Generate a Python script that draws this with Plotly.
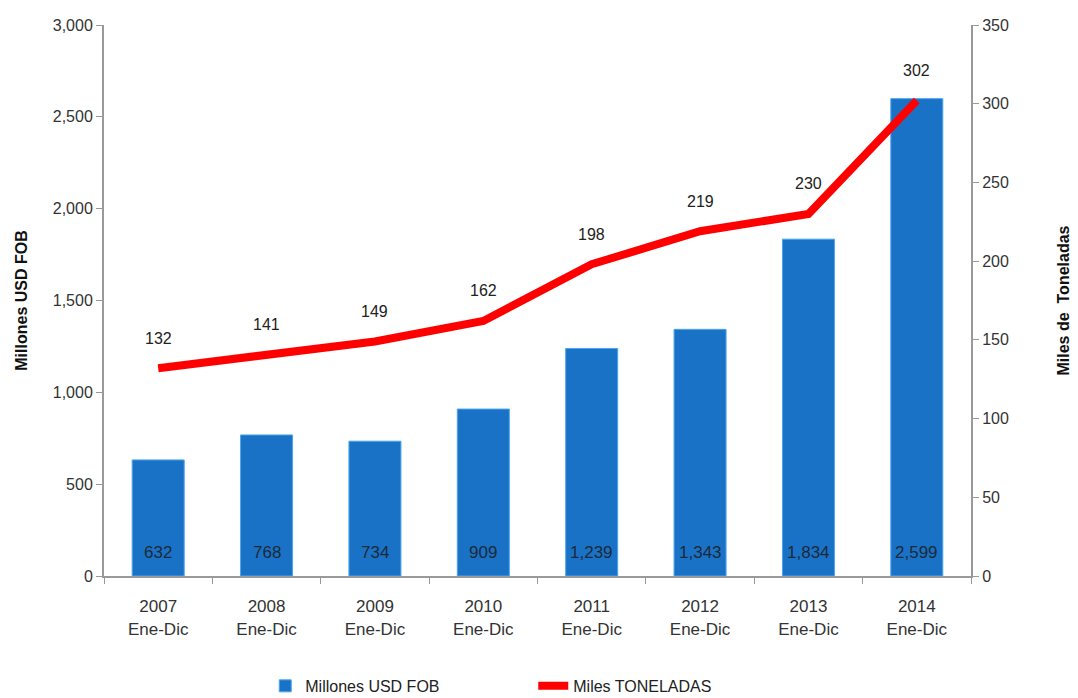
import plotly.graph_objects as go

categories = ["2007<br>Ene-Dic", "2008<br>Ene-Dic", "2009<br>Ene-Dic", "2010<br>Ene-Dic",
              "2011<br>Ene-Dic", "2012<br>Ene-Dic", "2013<br>Ene-Dic", "2014<br>Ene-Dic"]
usd_fob = [632, 768, 734, 909, 1239, 1343, 1834, 2599]
toneladas = [132, 141, 149, 162, 198, 219, 230, 302]

FONT = "Liberation Sans, Arial, sans-serif"

fig = go.Figure()
fig.add_trace(go.Bar(
    x=categories, y=usd_fob, name="Millones USD FOB",
    marker=dict(color="#1a72c6", line=dict(color="#4aa6ee", width=1)),
    width=0.48,
    yaxis="y",
))
fig.add_trace(go.Scatter(
    x=categories, y=toneladas, name="Miles TONELADAS",
    mode="lines", line=dict(color="#ff0000", width=8),
    yaxis="y2",
))
for c, v in zip(categories, usd_fob):
    fig.add_annotation(x=c, y=0, yref="y", text=f"{v:,}", showarrow=False,
                       yanchor="middle", yshift=24,
                       font=dict(size=17, color="#1c2a3a", family=FONT))
for c, v in zip(categories, toneladas):
    fig.add_annotation(x=c, y=v, yref="y2", text=str(v), showarrow=False,
                       yshift=30, font=dict(size=16, color="#222", family=FONT))

fig.update_layout(
    width=1078, height=698,
    margin=dict(l=96, r=115, t=17, b=130),
    paper_bgcolor="white", plot_bgcolor="white",
    font=dict(family=FONT, color="#333", size=15),
    bargap=0.52,
    xaxis=dict(
        showline=True, linecolor="#999", linewidth=2, automargin=False,
        ticks="outside", tickson="boundaries", ticklen=6, tickcolor="#999",
        ticklabelstandoff=14,
        tickfont=dict(size=17, color="#333"), showgrid=False,
    ),
    yaxis=dict(
        range=[0, 3000], dtick=500, tickformat=",", automargin=False,
        showline=True, linecolor="#999", linewidth=2,
        ticks="outside", ticklen=6, tickcolor="#999", showgrid=False, zeroline=False,
        tickfont=dict(size=16, color="#333"),
        title=dict(text="<b>Millones USD FOB</b>", font=dict(size=16, color="#111"), standoff=21),
    ),
    yaxis2=dict(
        range=[0, 350], dtick=50, overlaying="y", side="right", automargin=False,
        showline=True, linecolor="#999", linewidth=2,
        ticks="outside", ticklen=6, tickcolor="#999", showgrid=False, zeroline=False,
        tickfont=dict(size=16, color="#333"),
        title=dict(text="<b>Miles de  Toneladas</b>", font=dict(size=16, color="#111"), standoff=50),
    ),
    legend=dict(orientation="h", x=0.186, xanchor="left",
                yref="container", y=0.0287, yanchor="middle",
                entrywidth=223, entrywidthmode="pixels",
                font=dict(size=16, color="#222"), traceorder="normal"),
)

fig.write_html("out.html")
